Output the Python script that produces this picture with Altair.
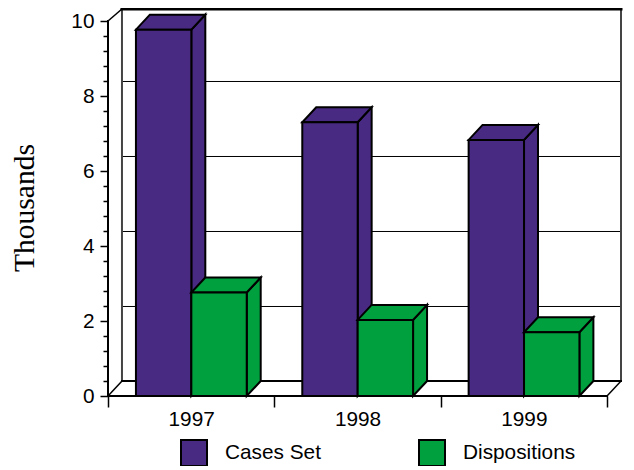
import altair as alt
import pandas as pd

years = ["1997", "1998", "1999"]
cases_set = [9.77, 7.3, 6.83]
dispositions = [2.76, 2.03, 1.7]
series_names = ["Cases Set", "Dispositions"]
series_colors = ["#482A82", "#00A03E"]
y_ticks = [round(i * 0.4, 1) for i in range(26)]
x_ticks = [0, 0.5, 1, 1.5, 2, 2.5, 3]
grid_levels = [2, 4, 6, 8]

# 3-D extrusion, in data units
DX, DY = 0.084, 0.4
BAR_L, BAR_W = 0.168, 0.333
XMAX, YMAX = 3 + DX, 10.32
SNAP = 0.0133  # half a pixel on the y scale, keeps thin grid lines crisp

xs = alt.Scale(domain=[0, XMAX], nice=False, zero=False)
ys = alt.Scale(domain=[0, YMAX], nice=False, zero=False)
X = lambda **k: alt.X("x:Q", scale=xs, **({"axis": None} if not k else k))
Y = lambda **k: alt.Y("y:Q", scale=ys, **({"axis": None} if not k else k))


def segs(rows, width, color="black"):
    df = pd.DataFrame(
        [r for i, s in enumerate(rows)
         for r in ({"s": i, "x": s[0], "y": s[1]}, {"s": i, "x": s[2], "y": s[3]})]
    )
    return alt.Chart(df).mark_line(color=color, strokeWidth=width, strokeCap="square").encode(
        x=X(), y=Y(), detail="s:N"
    )


axes = alt.Chart(pd.DataFrame({"x": [0.5], "y": [0]})).mark_point(opacity=0).encode(
    x=X(axis=alt.Axis(
        values=x_ticks, title=None, domain=False, grid=False,
        tickColor="black", tickWidth=1.5, tickSize=11,
        tickOpacity={"condition": {"test": "datum.value % 1 == 0", "value": 1}, "value": 0},
        labelExpr="datum.value % 1 == 0.5 ? (datum.value == 0.5 ? '1997' : datum.value == 1.5 ? '1998' : '1999') : ''",
        labelFont="Liberation Sans", labelFontSize=20.8, labelColor="black", labelPadding=2.5,
        labelAngle=0, labelFlush=False, labelOverlap=False,
    )),
    y=Y(axis=alt.Axis(
        values=y_ticks, title="Thousands", domain=False, grid=False,
        tickColor="black", tickWidth=1.5,
        tickSize={"expr": "abs(datum.value / 2 - round(datum.value / 2)) < 0.01 ? 8 : 5"},
        labelExpr="abs(datum.value / 2 - round(datum.value / 2)) < 0.01 ? format(datum.value, 'd') : ''",
        labelFont="Liberation Sans", labelFontSize=20.8, labelColor="black", labelPadding=6,
        labelOverlap=False, labelFlush=False,
        titleFont="Liberation Serif", titleFontSize=29.5, titleFontWeight="normal",
        titleColor="black", titleX=-75, titleY=198.5, titleAngle=270, titleBaseline="alphabetic",
    )),
)

grid = segs([(DX, g + DY - SNAP, 3 + DX, g + DY - SNAP) for g in grid_levels], 1, "black")
walls = segs(
    [(DX, DY, DX, YMAX), (3 + DX, DY, 3 + DX, YMAX)], 2, "#444444"
)
floor_back = segs([(DX, DY, 3 + DX, DY)], 2)
diag = segs([(0, 0, DX, DY), (3, 0, 3 + DX, DY), (0, 10, DX, YMAX)], 1.5)
front_axis = segs([(0, 0, 3, 0), (0, 0, 0, 10)], 2)
top_line = segs([(DX, YMAX, 3 + DX, YMAX)], 3)

STROKE = dict(stroke="black", strokeWidth=2, strokeJoin="miter")


def bar_layers(idx, values):
    fill = series_colors[idx]
    name = series_names[idx]
    left = [i + BAR_L + idx * BAR_W for i in range(3)]
    side = pd.DataFrame(
        [r for i, (l, v) in enumerate(zip(left, values))
         for r in ({"b": i, "x": l + BAR_W, "y": v, "y2": 0},
                   {"b": i, "x": l + BAR_W + DX, "y": v + DY, "y2": DY})]
    )
    top = pd.DataFrame(
        [r for i, (l, v) in enumerate(zip(left, values))
         for r in ({"b": i, "y": v, "x": l, "x2": l + BAR_W},
                   {"b": i, "y": v + DY, "x": l + DX, "x2": l + BAR_W + DX})]
    )
    front = pd.DataFrame(
        {"x": left, "x2": [l + BAR_W for l in left], "y": values,
         "y2": [0, 0, 0], "series": [name] * 3}
    )
    return [
        alt.Chart(side).mark_area(color=fill, opacity=1, **STROKE).encode(
            x=X(), y=Y(), y2="y2:Q", detail="b:N"),
        alt.Chart(top).mark_area(color=fill, opacity=1, orient="horizontal", **STROKE).encode(
            x=X(), x2="x2:Q", y=Y(), detail="b:N"),
        alt.Chart(front).mark_bar(opacity=1, **STROKE).encode(
            x=X(), x2="x2:Q", y=Y(), y2="y2:Q",
            color=alt.Color("series:N", scale=alt.Scale(domain=series_names, range=series_colors),
                            legend=alt.Legend(
                                title=None, orient="none", legendX=72, legendY=430, columns=2,
                                direction="horizontal",
                                symbolType="square", symbolSize=676, symbolStrokeColor="black",
                                symbolStrokeWidth=2, symbolOpacity=1,
                                labelFont="Liberation Sans", labelFontSize=20.8, labelColor="black",
                                labelOffset=17, columnPadding=97, clipHeight=28,
                            ))),
    ]


layers = [axes, grid, walls, floor_back, diag, top_line]
layers += bar_layers(0, cases_set) + bar_layers(1, dispositions)
layers += [front_axis]

chart = alt.layer(*layers).resolve_axis(x="independent", y="independent").properties(
    width=513, height=387,
    padding={"left": 100, "top": 1, "right": 5, "bottom": 70},
    autosize=alt.AutoSizeParams(type="none"),
    background="white",
).configure_view(stroke=None)

chart.save("out.html", embed_options={"renderer": "svg", "actions": False})
